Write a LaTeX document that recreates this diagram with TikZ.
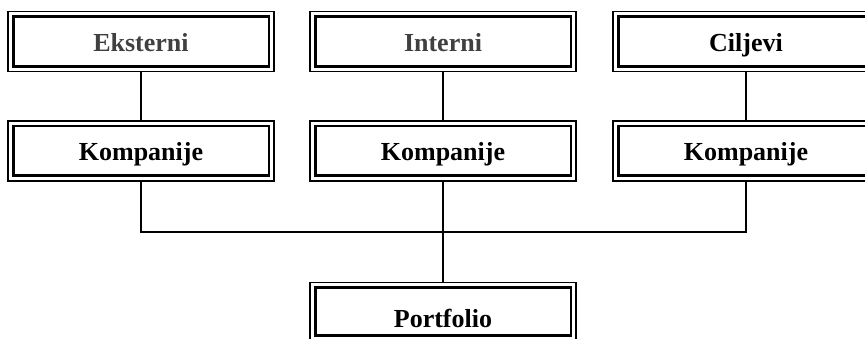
\documentclass[tikz,border=0pt]{standalone}
\usepackage{fontspec}
\setmainfont{Liberation Serif}
\begin{document}
\begin{tikzpicture}[x=1pt,y=1pt,
  box/.style={draw=black, line width=1.8pt, minimum width=266pt, minimum height=60pt,
    inner sep=0pt, font=\fontsize{26}{30}\selectfont\bfseries, text height=25pt, text depth=5pt},
  graytxt/.style={text=black!75},
  conn/.style={draw=black, line width=1.7pt}]
\useasboundingbox (0,0) rectangle (865,339);
\clip (0,0) rectangle (865,339);
\node[box,graytxt] (e) at (141,297.5) {Eksterni};
\node[box,graytxt] (i) at (443,297.5) {Interni};
\node[box] (c) at (746,297.5) {Ciljevi};
\node[box] (k1) at (141,188) {Kompanije};
\node[box] (k2) at (443,188) {Kompanije};
\node[box] (k3) at (746,188) {Kompanije};
\node[box, minimum height=58pt, text height=38pt] (p) at (443,27.5) {Portfolio};
\foreach \n in {e,i,c,k1,k2,k3,p}{
  \draw[line width=2.8pt] ([shift={(6,-6)}]\n.north west) rectangle ([shift={(-6,6)}]\n.south east);
}
\coordinate (j) at (443,107);
\draw[conn] (e.south) -- (k1.north);
\draw[conn] (i.south) -- (k2.north);
\draw[conn] (c.south) -- (k3.north);
\draw[conn] (k1.south) |- (j) -| (k3.south);
\draw[conn] (k2.south) -- (p.north);
\end{tikzpicture}
\end{document}
